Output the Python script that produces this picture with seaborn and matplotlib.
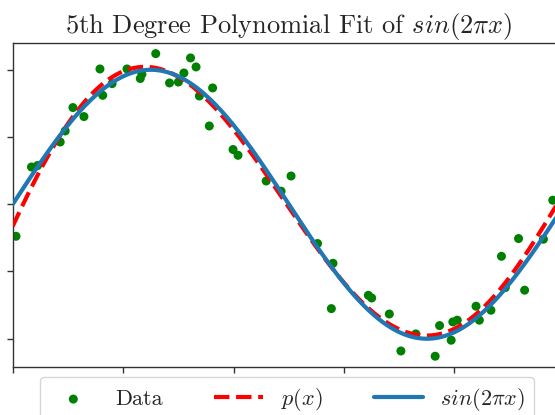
import numpy as np
import pandas as pd
import matplotlib
matplotlib.use("Agg")
import matplotlib.pyplot as plt
import seaborn as sns

# Noisy samples of sin(2*pi*x)
x_data = [0.006, 0.034, 0.045, 0.086, 0.095, 0.109, 0.129, 0.158, 0.163, 0.180,
          0.207, 0.231, 0.234, 0.259, 0.284, 0.300, 0.310, 0.322, 0.332, 0.338,
          0.362, 0.356, 0.399, 0.408, 0.459, 0.486, 0.504, 0.552, 0.580, 0.577,
          0.644, 0.650, 0.682, 0.703, 0.730, 0.765, 0.773, 0.794, 0.797, 0.805,
          0.839, 0.845, 0.866, 0.885, 0.892, 0.916, 0.927, 0.961, 0.978]
y_data = [-0.238, 0.277, 0.288, 0.463, 0.545, 0.719, 0.652, 1.006, 0.810, 0.897,
          1.006, 0.935, 0.967, 1.120, 0.902, 0.909, 0.976, 1.088, 1.021, 0.805,
          0.865, 0.582, 0.407, 0.364, 0.173, 0.097, 0.210, -0.292, -0.439, -0.776,
          -0.677, -0.697, -0.816, -1.091, -0.964, -1.130, -0.902, -1.011, -0.875, -0.862,
          -0.758, -0.862, -0.788, -0.387, -0.620, -0.255, -0.639, -0.260, 0.030]

degree = 5
x_ticks = [0.0, 0.2, 0.4, 0.6, 0.8, 1.0]
y_ticks = [-1.0, -0.5, 0.0, 0.5, 1.0]

# Least-squares polynomial fit and the true curve on a fine grid
coeffs = np.polyfit(x_data, y_data, degree)
x_fine = np.linspace(0, 1, 300)
curves = pd.DataFrame({
    "x": x_fine,
    "p": np.polyval(coeffs, x_fine),
    "sin": np.sin(2 * np.pi * x_fine),
})
samples = pd.DataFrame({"x": x_data, "y": y_data})

sns.set_theme(style="ticks")
plt.rcParams["font.family"] = ["cmr10", "DejaVu Serif"]
plt.rcParams["mathtext.fontset"] = "cm"
plt.rcParams["axes.formatter.use_mathtext"] = True
plt.rcParams["axes.unicode_minus"] = False

fig = plt.figure(figsize=(5.55, 4.15), dpi=100)
ax = fig.add_axes([0.0229, 0.1157, 0.995, 0.781])

sns.scatterplot(data=samples, x="x", y="y", ax=ax, color="green", s=42,
                edgecolor="none", label="Data", zorder=2)
sns.lineplot(data=curves, x="x", y="p", ax=ax, color="red", lw=3,
             linestyle="--", label="$p(x)$", sort=False, estimator=None, zorder=3)
sns.lineplot(data=curves, x="x", y="sin", ax=ax, color="#1f77b4", lw=3,
             label=r"$sin(2\pi x)$", sort=False, estimator=None, zorder=4)

ax.set_xlim(0, 1)
ax.set_ylim(-1.21, 1.2)
ax.set_xticks(x_ticks)
ax.set_yticks(y_ticks)
ax.set_xticklabels([])
ax.set_yticklabels([])
ax.set_xlabel("")
ax.set_ylabel("")
for side in ax.spines.values():
    side.set_color("#333333")
    side.set_linewidth(1.0)
ax.tick_params(colors="#333333", length=4, width=1)

ax.set_title(r"5th Degree Polynomial Fit of $sin(2\pi x)$", fontsize=19, pad=7)
ax.legend(loc="upper center", bbox_to_anchor=(0.497, -0.031), ncol=3,
          fontsize=16, frameon=True, borderaxespad=0, columnspacing=2.3,
          handlelength=2.2, scatterpoints=1)

fig.savefig("out.png", dpi=100)
